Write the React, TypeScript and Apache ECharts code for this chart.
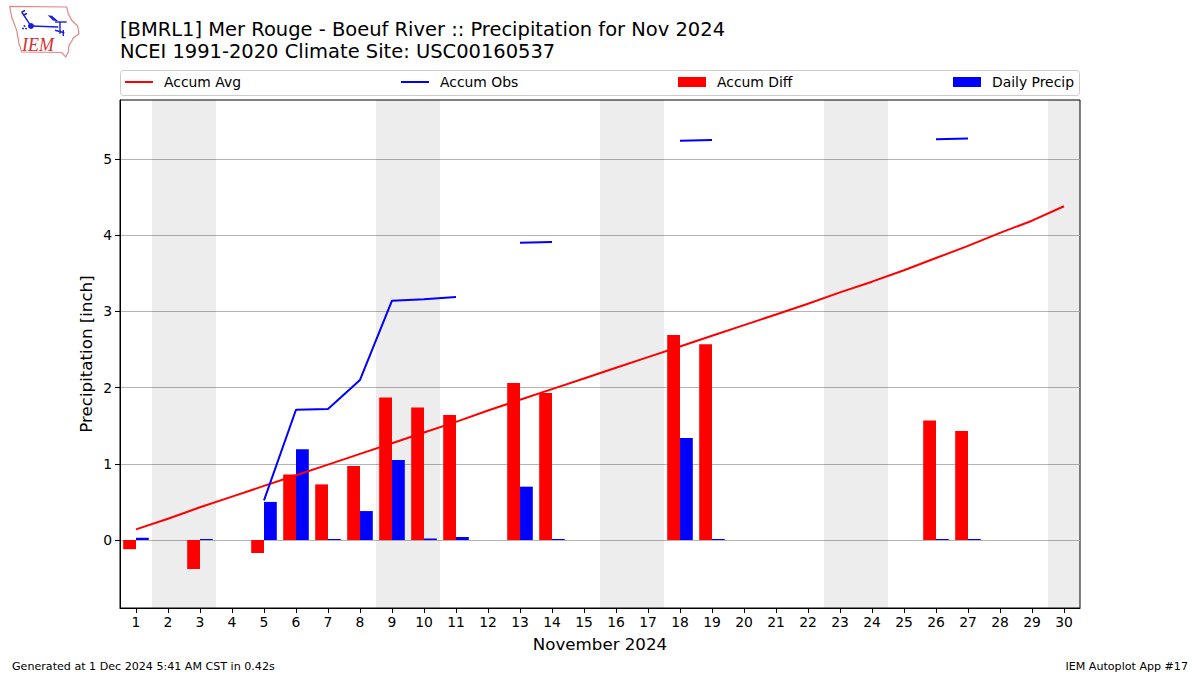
import React, { useEffect, useRef } from "react";
import * as echarts from "echarts";

const FONT = "DejaVu Sans";
const titleText = "[BMRL1] Mer Rouge - Boeuf River :: Precipitation for Nov 2024\nNCEI 1991-2020 Climate Site: USC00160537";
const days = Array.from({ length: 30 }, (_, i) => String(i + 1));
const weekendDays = ["2", "3", "9", "10", "16", "17", "23", "24", "30"];
const yTicks = [0, 1, 2, 3, 4, 5];
const accumAvg = [0.14, 0.28, 0.43, 0.57, 0.71, 0.85, 0.99, 1.13, 1.27, 1.41, 1.55, 1.7, 1.84, 1.98, 2.12, 2.26, 2.4, 2.54, 2.68, 2.82, 2.96, 3.1, 3.25, 3.39, 3.54, 3.7, 3.86, 4.03, 4.19, 4.38];
const accumObs = [null, null, null, null, 0.52, 1.71, 1.72, 2.1, 3.14, 3.16, 3.19, null, 3.9, 3.91, null, null, null, 5.24, 5.25, null, null, null, null, null, null, 5.26, 5.27, null, null, null];
const accumDiff = [-0.12, null, -0.38, null, -0.17, 0.86, 0.73, 0.97, 1.87, 1.74, 1.64, null, 2.06, 1.93, null, null, null, 2.69, 2.57, null, null, null, null, null, null, 1.57, 1.43, null, null, null];
const dailyPrecip = [0.03, null, 0.01, null, 0.5, 1.19, 0.01, 0.38, 1.05, 0.02, 0.04, null, 0.7, 0.01, null, null, null, 1.34, 0.01, null, null, null, null, null, null, 0.01, 0.01, null, null, null];

const logoOutline = [[9.7, 6.3], [66.7, 7], [68.3, 13.7], [71.7, 20.3], [77.7, 26], [79, 33.7], [73.3, 38], [71.7, 41.3], [69, 45.3], [68.3, 52], [65.7, 57], [61.7, 52.5], [21.7, 52], [19, 43.7], [16.7, 30.3], [11.7, 17]];
const blueLines = [
  [[31, 26], [58.3, 27]],
  [[55, 22], [66.7, 22]],
  [[60, 22], [60, 33.7]],
  [[55, 30.3], [64.3, 32.7]],
  [[63.3, 30], [63.3, 36]],
  [[21.7, 12], [30, 24.7]],
  [[21.7, 12], [25, 10.5]],
  [[23.5, 15], [27, 13.5]],
];

function legendItem(name: string, left: number, isLine: boolean) {
  return {
    data: [name],
    left,
    top: 75,
    padding: 0,
    icon: "rect",
    itemWidth: 28,
    itemHeight: isLine ? 2 : 10,
    selectedMode: false,
    textStyle: { fontFamily: FONT, fontSize: 13.9, color: "#000", padding: [0, 0, 0, 6] },
  };
}

export default function App() {
  const ref = useRef<HTMLDivElement>(null);
  useEffect(() => {
    const chart = echarts.init(ref.current!, null, { renderer: "svg" });
    const option: any = {
      animation: false,
      backgroundColor: "#fff",
      textStyle: { fontFamily: FONT },
      title: {
        text: titleText,
        left: 120,
        top: 18,
        padding: 0,
        textStyle: { fontFamily: FONT, fontSize: 19.48, fontWeight: "normal", color: "#000", lineHeight: 22.5 },
      },
      legend: [
        legendItem("Accum Avg", 125, true),
        legendItem("Accum Obs", 401, true),
        legendItem("Accum Diff", 678, false),
        legendItem("Daily Precip", 953, false),
      ],
      grid: { left: 120, right: 120, top: 100, height: 508, show: true, borderColor: "#000", borderWidth: 1, backgroundColor: "transparent", containLabel: false },
      xAxis: {
        type: "category",
        data: days,
        name: "November 2024",
        nameLocation: "middle",
        nameMoveOverlap: false,
        nameGap: 28,
        nameTextStyle: { fontFamily: FONT, fontSize: 16.67, color: "#000" },
        axisLine: { show: true, onZero: false, lineStyle: { color: "#000", width: 1 } },
        axisTick: { show: true, alignWithLabel: true, length: 5, lineStyle: { color: "#000", width: 1 } },
        axisLabel: { show: true, interval: 0, margin: 7, fontFamily: FONT, fontSize: 13.9, color: "#000" },
        splitLine: { show: false },
      },
      yAxis: {
        type: "value",
        min: -0.892,
        max: 5.774,
        name: "Precipitation [inch]",
        nameLocation: "middle",
        nameMoveOverlap: false,
        nameRotate: 90,
        nameGap: 25,
        nameTextStyle: { fontFamily: FONT, fontSize: 16.67, color: "#000" },
        axisLine: { show: true, lineStyle: { color: "#000", width: 1 } },
        axisTick: { show: true, length: 5, lineStyle: { color: "#000", width: 1 }, customValues: yTicks },
        axisLabel: { show: true, margin: 8, fontFamily: FONT, fontSize: 13.9, color: "#000", customValues: yTicks },
        splitLine: { show: true, lineStyle: { color: "#b4b4b4", width: 1 } },
      },
      series: [
        {
          type: "custom",
          name: "Weekend",
          z: 1,
          silent: true,
          clip: true,
          encode: { x: 0 },
          data: weekendDays.map((d) => [d]),
          renderItem: (params: any, api: any) => {
            const x = api.coord([api.value(0), 0])[0];
            const band = api.size([1, 0])[0];
            const cs = params.coordSys;
            return {
              type: "rect",
              shape: { x: x - band / 2, y: cs.y, width: band, height: cs.height },
              style: { fill: "rgba(0,0,0,0.07)" },
            };
          },
        },
        { type: "bar", name: "Accum Diff", z: 2, data: accumDiff, barWidth: 12.8, barGap: 0, itemStyle: { color: "#ff0000" } },
        { type: "bar", name: "Daily Precip", z: 2, data: dailyPrecip, barWidth: 12.8, barGap: 0, barMinHeight: 1, itemStyle: { color: "#0000ff" } },
        { type: "line", name: "Accum Avg", z: 3, data: accumAvg, showSymbol: false, symbol: "none", connectNulls: false, lineStyle: { color: "#ff0000", width: 2 }, itemStyle: { color: "#ff0000" } },
        { type: "line", name: "Accum Obs", z: 3, data: accumObs, showSymbol: false, symbol: "none", connectNulls: false, lineStyle: { color: "#0000ff", width: 2 }, itemStyle: { color: "#0000ff" } },
      ],
      graphic: [
        { type: "rect", z: -1, shape: { x: 120.5, y: 70.5, width: 959, height: 25, r: 3 }, style: { fill: "#fff", stroke: "#cccccc", lineWidth: 1 } },
        { type: "polygon", shape: { points: logoOutline }, style: { fill: "#fff", stroke: "#e08888", lineWidth: 1.2 } },
        ...blueLines.map(([a, b]) => ({ type: "line", shape: { x1: a[0], y1: a[1], x2: b[0], y2: b[1] }, style: { stroke: "#1c1cd8", lineWidth: 1.4 } })),
        { type: "polygon", shape: { points: [[47.7, 15.3], [52, 15.8], [58.3, 21.3], [53, 20.5]] }, style: { fill: "#1c1cd8" } },
        { type: "circle", shape: { cx: 31, cy: 26, r: 3 }, style: { fill: "#1c1cd8" } },
        { type: "circle", shape: { cx: 24.5, cy: 26, r: 0.9 }, style: { fill: "#1c1cd8" } },
        { type: "circle", shape: { cx: 23, cy: 28.5, r: 0.9 }, style: { fill: "#1c1cd8" } },
        { type: "circle", shape: { cx: 26, cy: 28.5, r: 0.9 }, style: { fill: "#1c1cd8" } },
        { type: "text", style: { x: 38, y: 44.5, text: "IEM", align: "center", verticalAlign: "middle", font: "italic 18px 'Liberation Serif'", fill: "#d83030" } },
        { type: "text", style: { x: 12, y: 666.5, text: "Generated at 1 Dec 2024 5:41 AM CST in 0.42s", align: "left", verticalAlign: "middle", font: `11.1px '${FONT}'`, fill: "#000" } },
        { type: "text", style: { x: 1188, y: 666.5, text: "IEM Autoplot App #17", align: "right", verticalAlign: "middle", font: `11.1px '${FONT}'`, fill: "#000" } },
      ],
    };
    chart.setOption(option);
    return () => chart.dispose();
  }, []);
  return <div ref={ref} style={{ position: "absolute", left: 0, top: 0, width: 1200, height: 675 }} />;
}
